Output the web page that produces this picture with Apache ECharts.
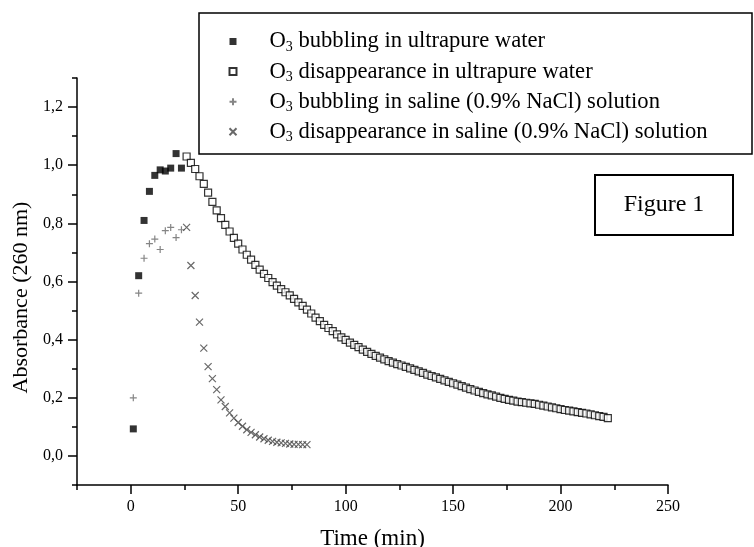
<!DOCTYPE html>
<html>
<head>
<meta charset="utf-8">
<script src="https://cdn.jsdelivr.net/npm/echarts@6/dist/echarts.min.js"></script>
<style>
html,body{margin:0;padding:0;background:#fff;}
#chart{width:754px;height:547px;}
</style>
</head>
<body>
<div id="chart"></div>
<script>
// ---- Data ----
const seriesNames = [
  'O₃ bubbling in ultrapure water',
  'O₃ disappearance in ultrapure water',
  'O₃ bubbling in saline (0.9% NaCl) solution',
  'O₃ disappearance in saline (0.9% NaCl) solution'
];
// bubbling phase times (min)
const tBubbling = [1.2, 3.7, 6.2, 8.7, 11.2, 13.7, 16.1, 18.6, 21.1, 23.6];
const bubblingWater = [0.093, 0.62, 0.81, 0.91, 0.965, 0.984, 0.98, 0.99, 1.04, 0.99];
const bubblingSaline = [0.20, 0.56, 0.68, 0.73, 0.746, 0.71, 0.775, 0.786, 0.751, 0.778];

// disappearance in ultrapure water
const tDisWater = [26,28,30,32,34,36,38,40,42,44,46,48,50,52,54,56,58,60,62,64,
  66,68,70,72,74,76,78,80,82,84,86,88,90,92,94,96,98,100,102,104,106,108,110,
  112,114,116,118,120,122,124,126,128,130,132,134,136,138,140,142,144,146,148,150,
  152,154,156,158,160,162,164,166,168,170,172,174,176,178,180,182,184,186,188,190,
  192,194,196,198,200,202,204,206,208,210,212,214,216,218,220,222];
const disWater = [1.03,1.008,0.987,0.962,0.936,0.906,0.874,0.845,0.818,0.795,0.772,0.75,0.73,0.71,0.692,0.675,0.657,0.641,0.626,0.612,
  0.598,0.586,0.574,0.563,0.552,0.540,0.528,0.516,0.503,0.490,0.476,0.464,0.451,0.440,0.429,0.418,0.408,0.399,0.390,0.382,0.374,0.366,0.358,
  0.351,0.344,0.338,0.332,0.326,0.321,0.316,0.311,0.306,0.301,0.296,0.291,0.286,0.280,0.275,0.270,0.265,0.260,0.255,0.250,
  0.245,0.240,0.235,0.230,0.225,0.220,0.216,0.212,0.208,0.204,0.200,0.196,0.193,0.190,0.187,0.185,0.183,0.181,0.179,0.176,
  0.173,0.170,0.167,0.164,0.161,0.158,0.156,0.153,0.151,0.148,0.146,0.143,0.140,0.137,0.134,0.130];

// disappearance in saline solution
const tDisSaline = [26,28,30,32,34,36,38,40,42,44,46,48,50,52,54,56,58,60,62,64,66,68,70,72,74,76,78,80,82];
const disSaline = [0.786,0.655,0.552,0.46,0.371,0.307,0.266,0.228,0.193,0.170,0.148,0.13,0.115,0.102,0.09,0.081,0.073,0.065,0.059,0.054,0.05,0.047,0.045,0.043,0.041,0.040,0.040,0.039,0.039];

// axis ticks
const xMajorTicks = [0, 50, 100, 150, 200, 250];
const yMajorTicks = [0, 0.2, 0.4, 0.6, 0.8, 1.0, 1.2];

// ---- Chart ----
const FONT = 'Liberation Serif';
function pairs(t, v) { return t.map((x, i) => [x, v[i]]); }

const chart = echarts.init(document.getElementById('chart'), null, {renderer: 'canvas'});

const plusPath = 'path://M0,5L10,5M5,0L5,10';
const crossPath = 'path://M0,0L10,10M10,0L0,10';

const option = {
  backgroundColor: '#fff',
  animation: false,
  grid: {left: 77, right: 86, top: 78, bottom: 62, containLabel: false, outerBoundsMode: 'none'},
  xAxis: [{
    type: 'value', min: -25, max: 250, interval: 25, position: 'bottom',
    name: 'Time (min)', nameLocation: 'middle', nameGap: 42,
    nameTextStyle: {fontFamily: FONT, fontSize: 23, color: '#000'},
    axisLine: {show: true, onZero: false, lineStyle: {color: '#000', width: 1.5}},
    axisTick: {show: true, length: 5, lineStyle: {color: '#000', width: 1.5}},
    axisLabel: {customValues: xMajorTicks, fontFamily: FONT, fontSize: 16, color: '#000', margin: 14},
    splitLine: {show: false}
  }, {
    type: 'value', min: -25, max: 250, position: 'bottom',
    axisLine: {show: false, onZero: false},
    axisTick: {show: true, customValues: xMajorTicks, length: 9, lineStyle: {color: '#000', width: 1.5}},
    axisLabel: {show: false},
    splitLine: {show: false}
  }],
  yAxis: [{
    type: 'value', min: -0.1, max: 1.3, interval: 0.1, position: 'left',
    name: 'Absorbance (260 nm)', nameLocation: 'middle', nameGap: 39,
    nameTextStyle: {fontFamily: FONT, fontSize: 22, color: '#000', padding: [0, 32, 0, 0]},
    axisLine: {show: true, onZero: false, lineStyle: {color: '#000', width: 1.5}},
    axisTick: {show: true, length: 5, lineStyle: {color: '#000', width: 1.5}},
    axisLabel: {customValues: yMajorTicks, fontFamily: FONT, fontSize: 16, color: '#000', margin: 14,
      formatter: v => v.toFixed(1).replace('.', ',')},
    splitLine: {show: false}
  }, {
    type: 'value', min: -0.1, max: 1.3, position: 'left',
    axisLine: {show: false, onZero: false},
    axisTick: {show: true, customValues: yMajorTicks, length: 9, lineStyle: {color: '#000', width: 1.5}},
    axisLabel: {show: false},
    splitLine: {show: false}
  }],
  legend: {
    orient: 'vertical', left: 227, top: 30, padding: 0, itemGap: 5.6,
    itemWidth: 7, itemHeight: 7, selectedMode: false,
    data: seriesNames,
    formatter: name => '{a|O}{s|3}{a|' + name.replace('O₃', '') + '}',
    textStyle: {
      padding: [0, 0, 0, 28],
      rich: {
        a: {fontFamily: FONT, fontSize: 22.6, color: '#000', lineHeight: 26},
        s: {fontFamily: FONT, fontSize: 14, color: '#000', verticalAlign: 'bottom'}
      }
    }
  },
  graphic: [
    {type: 'rect', shape: {x: 199, y: 13, width: 553, height: 141},
     style: {fill: 'none', stroke: '#000', lineWidth: 1.5}, z: 10},
    {type: 'rect', shape: {x: 595, y: 175, width: 138, height: 60},
     style: {fill: '#fff', stroke: '#000', lineWidth: 2}, z: 10},
    {type: 'text', x: 664, y: 205, z: 11,
     style: {text: 'Figure 1', fontFamily: FONT, fontSize: 24, fill: '#000', align: 'center', verticalAlign: 'middle'}}
  ],
  series: [{
    name: seriesNames[0], type: 'scatter', symbol: 'rect', symbolSize: 7,
    itemStyle: {color: '#000'},
    data: pairs(tBubbling, bubblingWater)
  }, {
    name: seriesNames[1], type: 'scatter', symbol: 'rect', symbolSize: 7,
    itemStyle: {color: '#fff', borderColor: '#000', borderWidth: 1.2},
    data: pairs(tDisWater, disWater)
  }, {
    name: seriesNames[2], type: 'scatter', symbol: plusPath, symbolSize: 7,
    itemStyle: {color: 'none', borderColor: '#666', borderWidth: 1.2},
    data: pairs(tBubbling, bubblingSaline)
  }, {
    name: seriesNames[3], type: 'scatter', symbol: crossPath, symbolSize: 7,
    itemStyle: {color: 'none', borderColor: '#444', borderWidth: 1.2},
    data: pairs(tDisSaline, disSaline)
  }]
};
chart.setOption(option);
</script>
</body>
</html>
